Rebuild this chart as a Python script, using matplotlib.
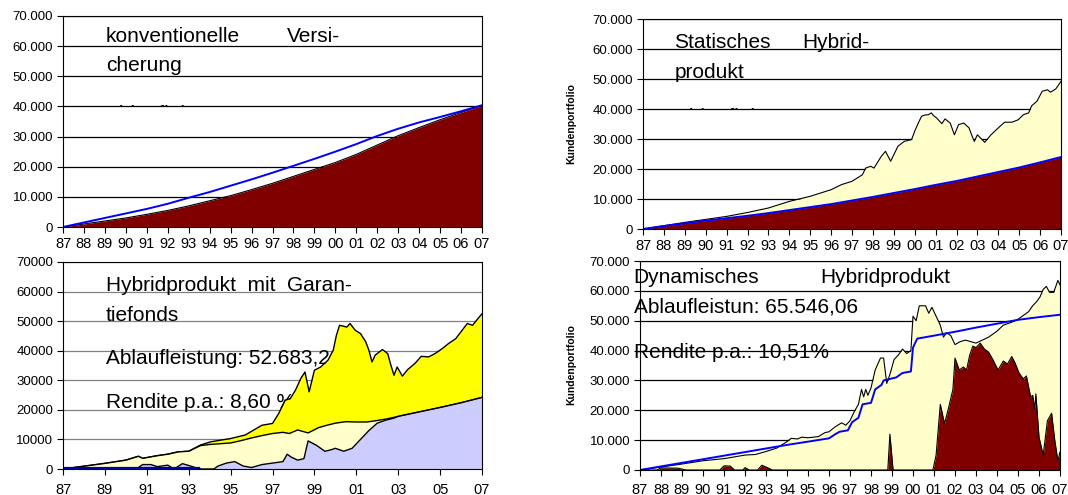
import matplotlib
matplotlib.use("Agg")
from matplotlib import pyplot as plt
from matplotlib.transforms import Bbox, TransformedBbox

plt.rcParams['font.family'] = ['Liberation Sans', 'DejaVu Sans']

# ---- data ----
years = list(range(1987, 2008))
year_labels = ["87", "88", "89", "90", "91", "92", "93", "94", "95", "96", "97",
               "98", "99", "00", "01", "02", "03", "04", "05", "06", "07"]
y_values = [0, 10000, 20000, 30000, 40000, 50000, 60000, 70000]
y_labels_dot = ["0", "10.000", "20.000", "30.000", "40.000", "50.000", "60.000", "70.000"]
y_labels_plain = ["0", "10000", "20000", "30000", "40000", "50000", "60000", "70000"]

# conventional insurance (yearly)
konv_deckung = [0, 1000, 2000, 3000, 4200, 5500, 7000, 8700, 10400, 12400, 14500,
                16800, 19100, 21400, 24100, 27200, 30300, 33000, 35600, 38000, 40300]
konv_garantie = [0, 1500, 3000, 4500, 6000, 7700, 9700, 11600, 13700, 15800, 18000,
                 20300, 22600, 25000, 27500, 30200, 32600, 34700, 36500, 38400, 40400]

# static hybrid product
stat_garantie = [0, 1000, 1900, 2800, 3600, 4400, 5300, 6300, 7300, 8300, 9500,
                 10700, 12000, 13300, 14700, 16000, 17500, 19000, 20500, 22200, 24000]
stat_t = [1987, 1989, 1991, 1992, 1993, 1994, 1995, 1996, 1996.5, 1997, 1997.5, 1997.65,
          1997.9, 1998.05, 1998.4, 1998.6, 1998.85, 1999.2, 1999.5, 1999.85, 2000.0,
          2000.17, 2000.33, 2000.5, 2000.65, 2000.8, 2000.9, 2001.05, 2001.3, 2001.45,
          2001.7, 2001.9, 2002.1, 2002.35, 2002.6, 2002.75, 2002.85, 2003.0, 2003.35,
          2003.65, 2004.0, 2004.3, 2004.65, 2004.95, 2005.2, 2005.45, 2005.6, 2005.85,
          2006.1, 2006.35, 2006.5, 2006.75, 2007.0]
stat_portfolio = [0, 2200, 4200, 5500, 7000, 9200, 10900, 13100, 14800, 15900, 18100, 20300,
                  20900, 20300, 24200, 25900, 22600, 27600, 29200, 29800, 32600,
                  35300, 37600, 38000, 38100, 38700, 37800, 37000, 35100, 36700,
                  35300, 31400, 34800, 35300, 33700, 30900, 29200, 31400, 28900,
                  31400, 33700, 35600, 35600, 36400, 38100, 38700, 41100, 42600,
                  45900, 46400, 45600, 46700, 49200]

# hybrid product with guarantee fund
gf_t = [1987, 1988, 1989, 1990, 1990.6, 1990.8, 1991.5, 1992, 1992.5, 1993, 1993.56,
        1994.05, 1995.0, 1995.7, 1996.5, 1997.0, 1997.3, 1997.6, 1997.85, 1998.1,
        1998.35, 1998.55, 1998.75, 1999.0, 1999.3, 1999.65, 1999.9, 2000.05, 2000.2,
        2000.55, 2000.7, 2000.95, 2001.2, 2001.45, 2001.6, 2001.75, 2001.9, 2002.25,
        2002.5, 2002.65, 2002.8, 2002.95, 2003.2, 2003.45, 2003.8, 2004.1, 2004.45,
        2004.75, 2005.1, 2005.4, 2005.75, 2006.05, 2006.3, 2006.55, 2006.8, 2007.0]
gf_gesamt = [0, 950, 1900, 3000, 4300, 3600, 4500, 5000, 5800, 6000, 8100,
             9200, 10300, 11500, 14800, 15400, 18800, 23300, 23800, 26700,
             30600, 32800, 26100, 33400, 34500, 36800, 40200, 45200, 48600,
             48000, 49200, 46900, 45800, 43000, 40200, 36200, 38500, 40400,
             39000, 35100, 31700, 34500, 31400, 33600, 35700, 38100, 37900,
             39000, 40700, 42400, 44100, 46900, 49200, 48600, 50800, 52500]
gf_mitte_t = [1987, 1988, 1989, 1990, 1990.6, 1990.8, 1991.5, 1992, 1992.5, 1993, 1993.56,
              1994, 1995, 1995.5, 1996, 1996.5, 1997, 1997.5, 1997.8, 1998.2, 1998.7,
              1999.2, 1999.6, 2000.0, 2000.5, 2001.0, 2001.5, 2002.0, 2002.5, 2003.0,
              2004, 2005, 2006, 2007]
gf_mitte = [0, 950, 1900, 3000, 4300, 3600, 4500, 5000, 5800, 6000, 7900,
            8300, 8800, 9600, 10500, 11300, 12000, 12400, 12000, 13200, 12200,
            14000, 14800, 15500, 16000, 15900, 15900, 16400, 17000, 17800,
            19300, 20800, 22400, 24200]
gf_fonds_t = [1987, 1990.5, 1990.8, 1991.2, 1991.5, 1992, 1992.3, 1992.7, 1993, 1993.3,
              1993.6, 1994.2, 1994.4, 1994.8, 1995.2, 1995.6, 1996, 1996.5, 1997, 1997.5,
              1997.7, 1997.9, 1998.2, 1998.5, 1998.7, 1999.1, 1999.5, 1999.8, 2000.0,
              2000.4, 2000.8, 2001.2, 2001.6, 2002.0, 2002.4, 2002.8, 2003.0, 2004,
              2005, 2006, 2007]
gf_fonds = [0, 0, 1500, 1500, 800, 1300, 0, 1800, 1200, 500,
            0, 0, 1000, 2000, 2500, 1000, 500, 1500, 2000, 2500,
            5000, 4000, 3000, 3500, 9500, 8000, 6000, 6500, 7000,
            6000, 7000, 10000, 13000, 15500, 16500, 17200, 17800, 19300,
            20800, 22400, 24200]
gf_blau_t = [1987, 1993.5]
gf_blau = [250, 250]

# dynamic hybrid product
dyn_t = [1987, 1988, 1989, 1990, 1991, 1992, 1992.5, 1993, 1993.5, 1994, 1994.2, 1994.5,
         1994.7, 1995, 1995.5, 1995.8, 1996, 1996.3, 1996.6, 1996.8, 1997.0, 1997.2,
         1997.4, 1997.55, 1997.65, 1997.75, 1997.85, 1998.0, 1998.2, 1998.45, 1998.6,
         1998.75, 1998.9, 1999.1, 1999.3, 1999.5, 1999.7, 1999.9, 2000.0, 2000.15,
         2000.3, 2000.6, 2000.75, 2000.9, 2001.1, 2001.3, 2001.45, 2001.6, 2001.8,
         2002.0, 2002.25, 2002.5, 2002.75, 2003.0, 2003.3, 2003.6, 2004.0, 2004.3,
         2004.7, 2005.0, 2005.3, 2005.5, 2005.7, 2005.9, 2006.05, 2006.2, 2006.35,
         2006.5, 2006.7, 2006.9, 2007.0]
dyn_portfolio = [0, 1000, 2000, 3100, 3800, 5000, 5200, 6200, 7300, 9500, 10600, 10400,
                 11000, 10800, 11200, 12500, 12800, 14500, 15800, 15000, 16500, 19500,
                 22000, 27000, 24500, 27000, 25000, 27500, 33500, 37500, 37500,
                 29000, 32000, 37000, 38500, 40500, 39000, 40000, 51500, 50000,
                 55000, 55000, 52500, 54500, 51500, 48500, 44500, 46000, 45000,
                 42000, 43000, 43500, 43000, 42500, 43500, 44500, 46500, 48500,
                 49500, 50500, 52000, 53000, 55000, 56500, 58000, 60500, 61500,
                 59500, 59500, 63500, 62000]
dyn_garantie_t = [1987, 1988, 1989, 1990, 1991, 1992, 1993, 1994, 1995, 1996, 1996.3,
                  1996.5, 1996.9, 1997.1, 1997.4, 1997.6, 1998.0, 1998.2, 1998.5, 1998.6,
                  1999.2, 1999.5, 1999.9, 2000.0, 2000.2, 2001, 2002, 2003, 2004, 2005,
                  2006, 2007]
dyn_garantie = [0, 1200, 2400, 3600, 4800, 6000, 7200, 8400, 9500, 10600, 12000,
                12800, 13300, 16000, 17500, 22000, 22500, 27000, 28500, 30000,
                31000, 32500, 33000, 41000, 44000, 45000, 46300, 47700, 49000, 50300,
                51200, 52000]
dyn_risiko_t = [1987, 1987.8, 1988.0, 1988.8, 1989.2, 1990.8, 1991.0, 1991.3, 1991.5,
                1991.9, 1992.0, 1992.2, 1992.6, 1992.8, 1993.1, 1993.3, 1998.8, 1998.9,
                1999.05, 2000.95, 2001.1, 2001.3, 2001.5, 2001.7, 2001.9, 2002.0, 2002.2,
                2002.4, 2002.55, 2002.7, 2002.85, 2003.0, 2003.2, 2003.4, 2003.6, 2003.8,
                2004.05, 2004.3, 2004.5, 2004.7, 2004.85, 2005.05, 2005.25, 2005.4, 2005.6,
                2005.7, 2005.8, 2005.85, 2006.0, 2006.2, 2006.4, 2006.6, 2006.75, 2006.9,
                2007.0]
dyn_risiko = [0, 0, 700, 600, 0, 0, 1400, 1300, 0,
              0, 800, 0, 0, 1600, 700, 0, 0, 12000,
              0, 0, 5000, 22000, 15500, 21000, 27000, 37500, 33500,
              34500, 33500, 38500, 41500, 41000, 42500, 40500, 39500, 37000,
              33500, 36500, 35500, 38000, 36000, 32500, 30500, 31500, 24500,
              25000, 20500, 25500, 11000, 5000, 16500, 19000, 10000, 3000,
              6000]

# ---- colours ----
dark_red = "#800000"
pale_yellow = "#FFFFCC"
yellow = "#FFFF00"
lavender = "#CCCCFF"
blue = "#0000FF"

W, H = 1068, 495
fig = plt.figure(figsize=(W / 100, H / 100), dpi=100)


def make_axes(left, top, right, bottom):
    return fig.add_axes([left / W, 1 - bottom / H, (right - left) / W, (bottom - top) / H])


def style_axes(ax, ylabels, xticks, xlabels, gridcolor="black", xpad=4):
    ax.set_xlim(1987, 2007)
    ax.set_ylim(0, 70000)
    ax.set_yticks(y_values)
    ax.set_yticklabels(ylabels)
    ax.set_xticks(xticks)
    ax.set_xticklabels(xlabels)
    ax.yaxis.grid(True, color=gridcolor, linewidth=0.9)
    ax.set_axisbelow(True)
    ax.tick_params(axis="y", labelsize=9.5, length=4, width=0.8, pad=3)
    ax.tick_params(axis="x", labelsize=10.5, length=4, width=0.8, pad=xpad)
    for s in ax.spines.values():
        s.set_linewidth(0.8)


def clipped_text(ax, x, y, s, ymin):
    t = ax.text(x, y, s, fontsize=15, va="top", ha="left", clip_on=True)
    t.set_clip_box(TransformedBbox(Bbox([[1987, ymin], [2007, 70000]]), ax.transData))
    t.set_clip_path(None)


# panel 1: konventionelle Versicherung
ax1 = make_axes(63, 16, 482, 227)
style_axes(ax1, y_labels_dot, years, year_labels, xpad=3)
ax1.fill_between(years, konv_deckung, color=dark_red, linewidth=0)
ax1.plot(years, konv_deckung, color="black", linewidth=0.8)
ax1.plot(years, konv_garantie, color=blue, linewidth=1.4)
ax1.text(1989.05, 63300, "konventionelle", fontsize=15, va="center")
ax1.text(1997.7, 63300, "Versi-", fontsize=15, va="center")
ax1.text(1989.05, 53700, "cherung", fontsize=15, va="center")
clipped_text(ax1, 1989.05, 40450, "Ablaufleistung:", 40000)

# panel 2: statisches Hybridprodukt
ax2 = make_axes(643, 19, 1061, 229)
style_axes(ax2, y_labels_dot, years, year_labels, xpad=3)
ax2.fill_between(stat_t, stat_portfolio, color=pale_yellow, linewidth=0)
ax2.plot(stat_t, stat_portfolio, color="black", linewidth=0.8)
ax2.fill_between(years, stat_garantie, color=dark_red, linewidth=0)
ax2.plot(years, stat_garantie, color=blue, linewidth=1.4)
ax2.text(1988.5, 62000, "Statisches", fontsize=15, va="center")
ax2.text(1994.6, 62000, "Hybrid-", fontsize=15, va="center")
ax2.text(1988.5, 52300, "produkt", fontsize=15, va="center")
clipped_text(ax2, 1988.6, 40450, "Ablaufleistung:", 40000)
fig.text(571 / W, 1 - 124 / H, "Kundenportfolio", fontsize=7.5, fontweight="bold",
         rotation=90, ha="center", va="center")

# panel 3: Hybridprodukt mit Garantiefonds
ax3 = make_axes(63, 262, 482, 469)
style_axes(ax3, y_labels_plain, years[::2], year_labels[::2], gridcolor="#808080", xpad=6)
for txt, yy in [("Hybridprodukt  mit  Garan-", 62000), ("tiefonds", 52000),
                ("Ablaufleistung: 52.683,2", 37500), ("Rendite p.a.: 8,60 %", 22400)]:
    ax3.text(1989.05, yy, txt, fontsize=15, va="center", zorder=0.8)
ax3.fill_between(gf_t, gf_gesamt, color=yellow, linewidth=0, zorder=1)
ax3.plot(gf_t, gf_gesamt, color="black", linewidth=1.0, zorder=1.1)
ax3.fill_between(gf_mitte_t, gf_mitte, color=pale_yellow, linewidth=0, zorder=1.2)
ax3.plot(gf_mitte_t, gf_mitte, color="black", linewidth=1.0, zorder=1.3)
ax3.fill_between(gf_fonds_t, gf_fonds, color=lavender, linewidth=0, zorder=1.4)
ax3.plot(gf_fonds_t, gf_fonds, color="black", linewidth=1.0, zorder=1.5)
ax3.plot(gf_blau_t, gf_blau, color="#0000AA", linewidth=1.6, zorder=1.6)

# panel 4: dynamisches Hybridprodukt
ax4 = make_axes(640, 261, 1060, 470)
style_axes(ax4, y_labels_dot, years, year_labels, xpad=5)
ax4.fill_between(dyn_t, dyn_portfolio, color=pale_yellow, linewidth=0)
ax4.plot(dyn_t, dyn_portfolio, color="black", linewidth=0.8)
ax4.plot(dyn_garantie_t, dyn_garantie, color=blue, linewidth=1.4)
ax4.fill_between(dyn_risiko_t, dyn_risiko, color=dark_red, linewidth=0, zorder=2)
ax4.plot(dyn_risiko_t, dyn_risiko, color="black", linewidth=0.8, zorder=2.1)
ax4.text(1986.7, 64500, "Dynamisches", fontsize=15, va="center", zorder=3)
ax4.text(1995.6, 64500, "Hybridprodukt", fontsize=15, va="center", zorder=3)
ax4.text(1986.7, 54700, "Ablaufleistun: 65.546,06", fontsize=15, va="center", zorder=3)
ax4.text(1986.7, 39200, "Rendite p.a.: 10,51%", fontsize=15, va="center", zorder=3)
fig.text(571 / W, 1 - 365 / H, "Kundenportfolio", fontsize=7.5, fontweight="bold",
         rotation=90, ha="center", va="center")

fig.savefig("out.png", dpi=100)
